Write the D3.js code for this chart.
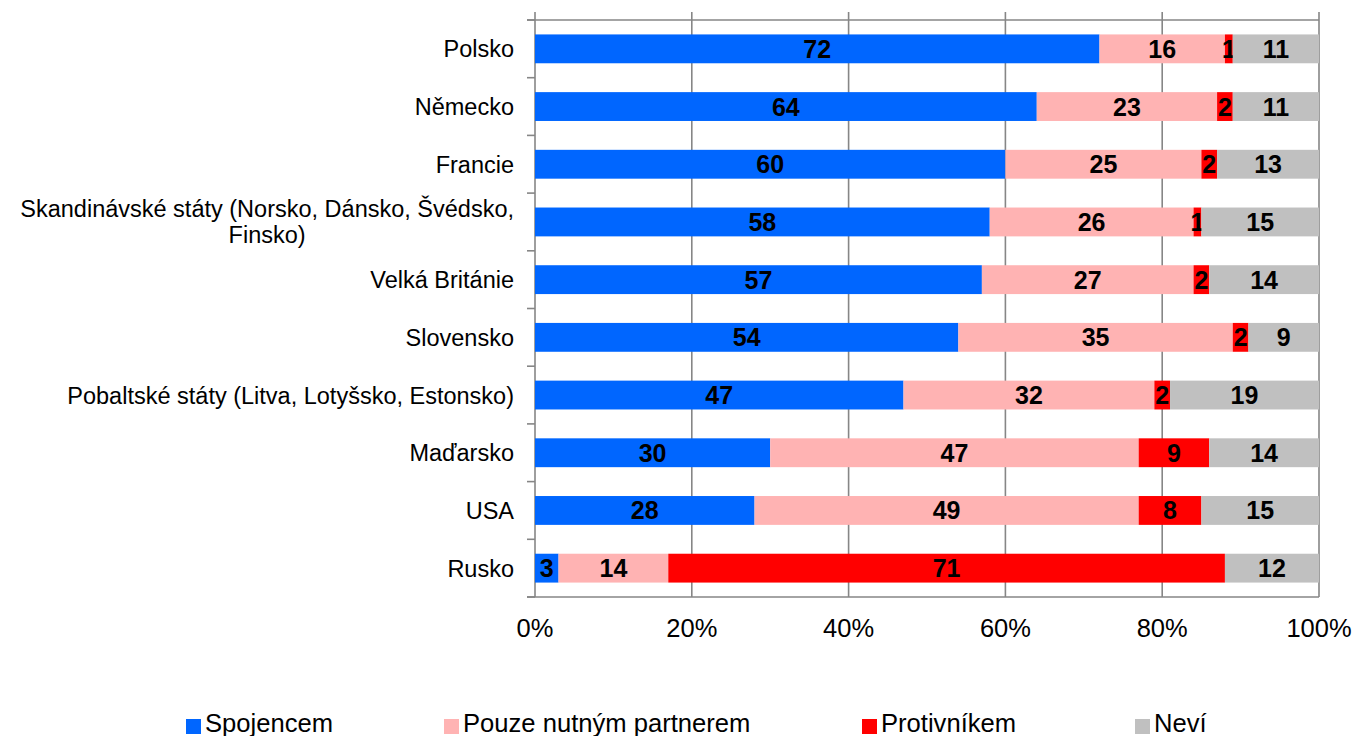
<!DOCTYPE html>
<html>
<head>
<meta charset="utf-8">
<script src="https://cdnjs.cloudflare.com/ajax/libs/d3/7.8.5/d3.min.js"></script>
<style>
  html, body { margin: 0; padding: 0; background: #fff; }
  svg { display: block; font-family: "Liberation Sans", Arial, sans-serif; }
</style>
</head>
<body>
<div id="chart"></div>
<script>
// categories, top to bottom
const categories = [
  "Polsko",
  "Německo",
  "Francie",
  "Skandinávské státy (Norsko, Dánsko, Švédsko,|Finsko)",
  "Velká Británie",
  "Slovensko",
  "Pobaltské státy (Litva, Lotyšsko, Estonsko)",
  "Maďarsko",
  "USA",
  "Rusko"
];
const seriesNames = ["Spojencem", "Pouze nutným partnerem", "Protivníkem", "Neví"];
const spojencem  = [72, 64, 60, 58, 57, 54, 47, 30, 28, 3];
const partnerem  = [16, 23, 25, 26, 27, 35, 32, 47, 49, 14];
const protivnik  = [1, 2, 2, 1, 2, 2, 2, 9, 8, 71];
const nevi       = [11, 11, 13, 15, 14, 9, 19, 14, 15, 12];
const tickValues = [0, 20, 40, 60, 80, 100];
const colors = ["#0066FF", "#FFB3B3", "#FF0000", "#C0C0C0"];

const W = 1354, H = 736;
const margin = {top: 20, right: 35, bottom: 139, left: 535};
const axisColor = "#868686";

const rows = categories.map((c, i) => ({
  cat: c,
  s0: spojencem[i], s1: partnerem[i], s2: protivnik[i], s3: nevi[i]
}));
const keys = ["s0", "s1", "s2", "s3"];
const stacked = d3.stack().keys(keys)(rows);

const svg = d3.select("#chart").append("svg")
  .attr("width", W).attr("height", H);

const x = d3.scaleLinear().domain([0, 100]).range([margin.left, W - margin.right]);
const y = d3.scaleBand().domain(categories).range([margin.top, H - margin.bottom]).paddingInner(0.5).paddingOuter(0.25);

const x0 = x(0), x1 = x(100), yTop = margin.top, yBot = H - margin.bottom;

// vertical gridlines
svg.append("g").selectAll("line")
  .data(tickValues)
  .enter().append("line")
  .attr("x1", d => x(d)).attr("x2", d => x(d))
  .attr("y1", yTop - 8).attr("y2", yBot)
  .attr("stroke", axisColor).attr("stroke-width", 1.6);

// horizontal top/bottom lines and category tick marks
const bandStep = y.step();
const bounds = d3.range(categories.length + 1).map(k => yTop + k * bandStep);
svg.append("g").selectAll("line")
  .data([yTop, yBot])
  .enter().append("line")
  .attr("x1", x0 - 8).attr("x2", x1)
  .attr("y1", d => d).attr("y2", d => d)
  .attr("stroke", axisColor).attr("stroke-width", 1.6);
svg.append("g").selectAll("line")
  .data(bounds)
  .enter().append("line")
  .attr("x1", x0 - 8).attr("x2", x0)
  .attr("y1", d => d).attr("y2", d => d)
  .attr("stroke", axisColor).attr("stroke-width", 1.6);

// bars
const layers = svg.append("g").selectAll("g")
  .data(stacked)
  .enter().append("g")
  .attr("fill", (d, i) => colors[i]);

layers.selectAll("rect")
  .data(d => d)
  .enter().append("rect")
  .attr("x", d => x(d[0]))
  .attr("width", d => x(d[1]) - x(d[0]))
  .attr("y", d => y(d.data.cat))
  .attr("height", y.bandwidth());

// data labels
layers.selectAll("text")
  .data(d => d)
  .enter().append("text")
  .attr("x", d => (x(d[0]) + x(d[1])) / 2)
  .attr("y", d => y(d.data.cat) + y.bandwidth() / 2)
  .attr("dy", "0.36em")
  .attr("text-anchor", "middle")
  .attr("fill", "#000")
  .style("font-weight", "bold")
  .style("font-size", "25px")
  .text(d => d[1] - d[0]);

// category labels
const catG = svg.append("g");
categories.forEach(c => {
  const lines = c.split("|");
  const cy = y(c) + y.bandwidth() / 2;
  const lh = 26;
  const t = catG.append("text")
    .style("font-size", "23.5px")
    .attr("fill", "#000");
  const first = t.append("tspan")
    .attr("x", x0 - 21)
    .attr("y", cy - (lines.length - 1) * lh / 2)
    .attr("dy", "0.36em")
    .attr("text-anchor", "end")
    .text(lines[0]);
  if (lines.length > 1) {
    const w = first.node().getComputedTextLength();
    const mid = x0 - 21 - w / 2;
    lines.slice(1).forEach((l, k) => {
      catG.append("text")
        .style("font-size", "23.5px")
        .attr("x", mid)
        .attr("y", cy - (lines.length - 1) * lh / 2 + (k + 1) * lh)
        .attr("dy", "0.36em")
        .attr("text-anchor", "middle")
        .text(l);
    });
  }
});

// x tick labels
svg.append("g").selectAll("text")
  .data(tickValues)
  .enter().append("text")
  .attr("x", d => x(d))
  .attr("y", 637)
  .attr("text-anchor", "middle")
  .style("font-size", "25.5px")
  .text(d => d + "%");

// legend
const legendX = [186, 444, 862, 1135];
const legend = svg.append("g").selectAll("g")
  .data(seriesNames)
  .enter().append("g")
  .attr("transform", (d, i) => `translate(${legendX[i]},0)`);
legend.append("rect")
  .attr("x", 0).attr("y", 719)
  .attr("width", 15).attr("height", 15)
  .attr("fill", (d, i) => colors[i]);
legend.append("text")
  .attr("x", 19).attr("y", 732)
  .style("font-size", "25.6px")
  .text(d => d);
</script>
</body>
</html>
